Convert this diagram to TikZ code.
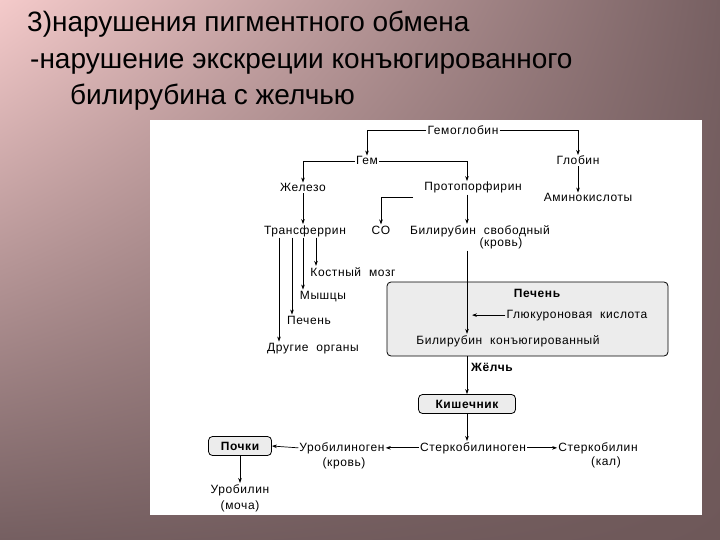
\documentclass[tikz,border=0pt]{standalone}
\usepackage{fontspec}
\setmainfont{Liberation Sans}[LetterSpace=5]
\newfontfamily\titlefont{Liberation Sans}
\usetikzlibrary{arrows.meta,calc,shadings}
\definecolor{bgTL}{HTML}{F4CACA}
\definecolor{bgTR}{HTML}{776062}
\definecolor{bgBL}{HTML}{755F61}
\definecolor{bgBR}{HTML}{6E5859}
\definecolor{boxfill}{HTML}{ECECEC}
\tikzset{
  lbl/.style={anchor=base, inner sep=1pt, font=\fontsize{12}{13}\selectfont, text=black},
  blbl/.style={lbl, font=\fontsize{12}{13}\selectfont\bfseries},
  ttl/.style={anchor=base west, inner sep=0pt, font=\titlefont\fontsize{28}{30}\selectfont, text=black},
  arr/.style={draw=black, line width=0.7pt, -{Stealth[length=5pt,width=3.6pt]}},
  rbox/.style={draw=black, line width=0.8pt, fill=boxfill, rounded corners=4pt, inner sep=0pt}
}
\begin{document}
\begin{tikzpicture}[x=1pt,y=-1pt]
\useasboundingbox (0,0) rectangle (720,540);
\shade[upper left=bgTL, upper right=bgTR, lower left=bgBL, lower right=bgBR] (0,0) rectangle (720,540);
\fill[white] (150,120) rectangle (702,515);

% title
\node[ttl] (t1) at (27,32) {3)нарушения пигментного обмена};
\node[ttl] (t2) at (30,69) {-нарушение экскреции конъюгированного};
\node[ttl] (t3) at (70,105) {билирубина с желчью};

% nodes
\node[lbl] (hb) at (463,135) {Гемоглобин};
\node[lbl] (gem) at (367,165) {Гем};
\node[lbl] (glob) at (578,165) {Глобин};
\node[lbl] (amino) at (588,202) {Аминокислоты};
\node[lbl] (fe) at (303,192) {Железо};
\node[lbl] (proto) at (473,191) {Протопорфирин};
\node[lbl] (co) at (381,234) {CO};
\node[lbl] (trans) at (305,234) {Трансферрин};
\node[lbl] (bil) at (480,234) {Билирубин\ \ свободный};
\node[lbl] (bilk) at (501,247) {(кровь)};
\node[lbl] (kost) at (353,276) {Костный\ \ мозг};
\node[lbl] (mysh) at (323,299) {Мышцы};
\node[lbl] (pech1) at (309,324) {Печень};
\node[lbl] (drug) at (313,351) {Другие\ \ органы};

\node[rbox, minimum width=281pt, minimum height=74pt] (liver) at (527.5,319) {};
\node[blbl] (pech2) at (537,297) {Печень};
\node[lbl] (gluk) at (577,318) {Глюкуроновая\ \ кислота};
\node[lbl] (bilc) at (508,344) {Билирубин\ \ конъюгированный};
\node[blbl] (zhel) at (492,371) {Жёлчь};

\node[rbox, minimum width=97pt, minimum height=19pt, font=\fontsize{12}{13}\selectfont\bfseries] (kish) at (467,404) {Кишечник};
\node[lbl] (sterk) at (473,451) {Стеркобилиноген};
\node[lbl] (sterkb) at (598,451) {Стеркобилин};
\node[lbl] (kal) at (606,465) {(кал)};
\node[lbl] (urog) at (342,451) {Уробилиноген};
\node[lbl] (krov2) at (344,466) {(кровь)};
\node[rbox, minimum width=63pt, minimum height=19pt, font=\fontsize{12}{13}\selectfont\bfseries] (pochki) at (240,446) {Почки};
\node[lbl] (urob) at (240,493) {Уробилин};
\node[lbl] (mocha) at (240,509) {(моча)};

\coordinate (vline) at (467,0);
\coordinate (cofrom) at (413,197);

% connectors
\draw[arr] (hb.west) -| (gem.north);
\draw[arr] (hb.east) -| (glob.north);
\draw[arr] (gem.west) -| (fe.north);
\draw[arr] (gem.east) -| (proto.north -| vline);
\draw[arr] (glob.south) -- (glob.south |- amino.north);
\draw[arr] (cofrom) -| (co.north);
\draw[arr] (proto.south -| vline) -- (bil.north -| vline);
\draw[arr] (fe.south) -- (fe.south |- trans.north);
\draw[arr] ([xshift=11pt]trans.south) -- ([xshift=11pt]trans.south |- kost.north);
\draw[arr] ([xshift=-2pt]trans.south) -- ([xshift=-2pt]trans.south |- mysh.north);
\draw[arr] ([xshift=-13pt]trans.south) -- ([xshift=-13pt]trans.south |- pech1.north);
\draw[arr] ([xshift=-26pt]trans.south) -- ([xshift=-26pt]trans.south |- drug.north);
\draw[arr] (bilk.south -| vline) -- (bilc.north -| vline);
\draw[arr] (gluk.west) -- ([xshift=5pt]gluk.west -| vline);
\draw[arr] (liver.south -| vline) -- (kish.north -| vline);
\draw[arr] (kish.south) -- (kish.south |- sterk.north);
\draw[arr] (sterk.east) -- (sterkb.west);
\draw[arr] (sterk.west) -- (urog.east);
\draw[arr] (urog.west) -- (pochki.east);
\draw[arr] (pochki.south) -- (urob.north);
\end{tikzpicture}
\end{document}
